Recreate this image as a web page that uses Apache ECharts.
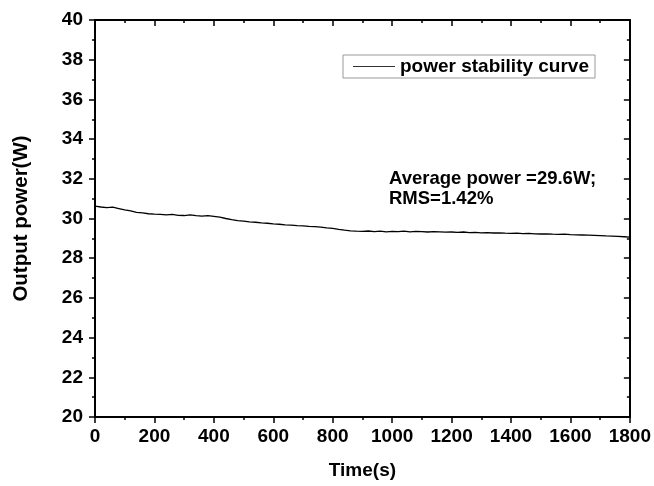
<!DOCTYPE html>
<html><head><meta charset="utf-8">
<script src="https://cdn.jsdelivr.net/npm/echarts@6/dist/echarts.min.js"></script>
<style>html,body{margin:0;padding:0;background:#fff}#c{width:654px;height:486px}</style>
</head><body><div id="c"></div>
<script>
const seriesName = 'power stability curve';
const timeSec = [0,20,40,60,80,100,120,140,160,180,200,220,240,260,280,300,320,340,360,380,400,420,440,460,480,500,520,540,560,580,600,620,640,660,680,700,720,740,760,780,800,820,840,860,880,900,920,940,960,980,1000,1020,1040,1060,1080,1100,1120,1140,1160,1180,1200,1220,1240,1260,1280,1300,1320,1340,1360,1380,1400,1420,1440,1460,1480,1500,1520,1540,1560,1580,1600,1620,1640,1660,1680,1700,1720,1740,1760,1780,1800];
const powerW = [30.62,30.58,30.55,30.57,30.50,30.43,30.38,30.31,30.28,30.24,30.22,30.21,30.18,30.21,30.16,30.15,30.18,30.14,30.12,30.15,30.11,30.07,30.00,29.94,29.89,29.87,29.83,29.81,29.78,29.76,29.73,29.71,29.68,29.67,29.64,29.63,29.60,29.59,29.57,29.53,29.50,29.45,29.41,29.38,29.36,29.35,29.37,29.34,29.36,29.33,29.35,29.34,29.36,29.33,29.35,29.34,29.32,29.34,29.33,29.31,29.32,29.30,29.32,29.29,29.30,29.28,29.29,29.27,29.28,29.26,29.25,29.26,29.24,29.25,29.23,29.22,29.23,29.21,29.20,29.21,29.19,29.18,29.17,29.16,29.15,29.14,29.12,29.11,29.10,29.08,29.06];
const xTicks = [0,200,400,600,800,1000,1200,1400,1600,1800];
const yTicks = [20,22,24,26,28,30,32,34,36,38,40];
const annotationLines = ['Average power =29.6W;','RMS=1.42%'];
const xName = 'Time(s)';
const yName = 'Output power(W)';

const FONT = 'Liberation Sans, Arial, sans-serif';
const data = timeSec.map((t,i)=>[t,powerW[i]]);
const chart = echarts.init(document.getElementById('c'));
const axisLineStyle = {color:'#000',width:2};
const tickStyle = {color:'#000',width:1.5};
chart.setOption({
  animation:false,
  backgroundColor:'#fff',
  grid:{left:95,right:24,top:20,bottom:69,containLabel:false},
  legend:{
    data:[{name:seriesName,icon:'rect'}],
    left:343, top:55, itemWidth:42, itemHeight:1.2, itemGap:8,
    padding:[2,6,2,10],
    borderColor:'#999', borderWidth:1,
    itemStyle:{color:'#333'},
    textStyle:{fontFamily:FONT,fontWeight:'bold',fontSize:19,color:'#000',lineHeight:19}
  },
  xAxis:[{
    type:'value',min:0,max:1800,interval:200,position:'bottom',
    name:xName,nameLocation:'middle',nameGap:44,
    nameTextStyle:{fontFamily:FONT,fontWeight:'bold',fontSize:19,color:'#000'},
    axisLine:{show:true,onZero:false,lineStyle:axisLineStyle},
    axisTick:{show:true,inside:false,length:6,lineStyle:tickStyle},
    minorTick:{show:true,splitNumber:2,length:3,lineStyle:tickStyle},
    axisLabel:{fontFamily:FONT,fontWeight:'bold',fontSize:19,color:'#000',margin:10,
      formatter:v=>xTicks.includes(v)?String(v):''},
    splitLine:{show:false}
  },{
    type:'value',min:0,max:1800,interval:200,position:'top',
    axisLine:{show:true,onZero:false,lineStyle:axisLineStyle},
    axisTick:{show:true,inside:true,length:6,lineStyle:tickStyle},
    minorTick:{show:true,splitNumber:2,length:3,lineStyle:tickStyle},
    axisLabel:{show:false},splitLine:{show:false}
  }],
  yAxis:[{
    type:'value',min:20,max:40,interval:2,position:'left',
    name:yName,nameLocation:'middle',nameGap:63,
    nameTextStyle:{fontFamily:FONT,fontWeight:'bold',fontSize:20.5,color:'#000'},
    axisLine:{show:true,onZero:false,lineStyle:axisLineStyle},
    axisTick:{show:true,inside:false,length:6,lineStyle:tickStyle},
    minorTick:{show:true,splitNumber:2,length:3,lineStyle:tickStyle},
    axisLabel:{fontFamily:FONT,fontWeight:'bold',fontSize:19,color:'#000',margin:12,
      formatter:v=>yTicks.includes(v)?String(v):''},
    splitLine:{show:false}
  },{
    type:'value',min:20,max:40,interval:2,position:'right',
    axisLine:{show:true,onZero:false,lineStyle:axisLineStyle},
    axisTick:{show:true,inside:true,length:6,lineStyle:tickStyle},
    minorTick:{show:true,splitNumber:2,length:3,lineStyle:tickStyle},
    axisLabel:{show:false},splitLine:{show:false}
  }],
  series:[{
    name:seriesName,type:'line',data:data,xAxisIndex:0,yAxisIndex:0,
    showSymbol:false,symbol:'none',
    lineStyle:{color:'#000',width:1.3},itemStyle:{color:'#000'}
  }],
  graphic:[{
    type:'text',left:389,top:169,
    style:{text:annotationLines.join('\n'),fontFamily:FONT,fontWeight:'bold',fontSize:18.5,fill:'#000',lineHeight:20}
  }]
});
</script></body></html>
